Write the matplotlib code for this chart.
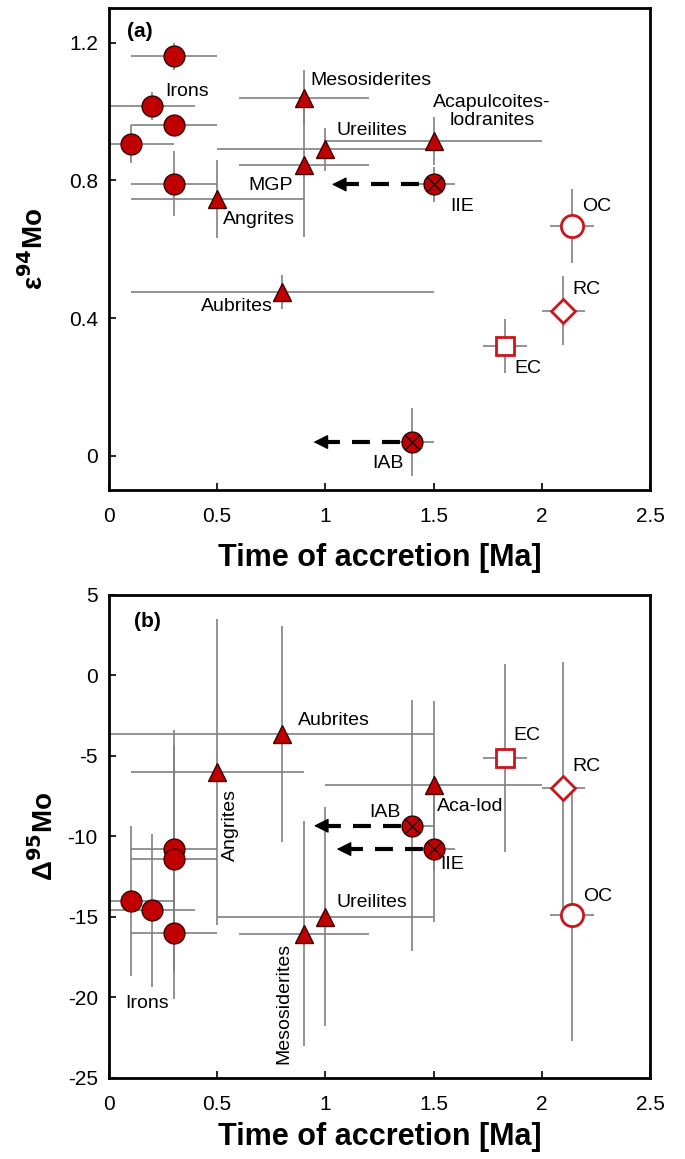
import matplotlib.pyplot as plt

plt.rcParams['font.family'] = ['Liberation Sans', 'DejaVu Sans']
plt.rcParams['axes.unicode_minus'] = False

RED = '#c00000'
OPEN = '#c8161d'
GREY = '#808080'

# ---- panel (a): epsilon 94Mo ----
irons_a_x = [0.3, 0.2, 0.3, 0.1, 0.3]
irons_a_y = [1.16, 1.015, 0.96, 0.905, 0.79]
irons_a_xerr = [0.2, 0.2, 0.2, 0.2, 0.2]
irons_a_yerr = [0.04, 0.04, 0.02, 0.055, 0.095]

achon_a_names = ['Mesosiderites', 'MGP', 'Ureilites', 'Acapulcoites-lodranites', 'Angrites', 'Aubrites']
achon_a_x = [0.9, 0.9, 1.0, 1.5, 0.5, 0.8]
achon_a_y = [1.04, 0.845, 0.89, 0.915, 0.745, 0.475]
achon_a_xerr = [0.3, 0.3, 0.5, 0.5, 0.4, 0.7]
achon_a_yerr = [0.08, 0.21, 0.063, 0.07, 0.113, 0.05]

cross_a_names = ['IIE', 'IAB']
cross_a_x = [1.5, 1.4]
cross_a_y = [0.788, 0.04]
cross_a_xerr = [0.1, 0.1]
cross_a_yerr = [0.05, 0.1]
cross_a_shift = [1.03, 0.945]   # arrow tips

chon_names = ['OC', 'RC', 'EC']
chon_markers = ['o', 'D', 's']
chon_a_x = [2.14, 2.1, 1.83]
chon_a_y = [0.668, 0.421, 0.318]
chon_a_xerr = [0.1, 0.1, 0.1]
chon_a_yerr = [0.107, 0.1, 0.078]

# ---- panel (b): Delta 95Mo ----
irons_b_x = [0.3, 0.3, 0.1, 0.2, 0.3]
irons_b_y = [-10.8, -11.4, -14.0, -14.6, -16.0]
irons_b_xerr = [0.2, 0.2, 0.2, 0.2, 0.2]
irons_b_yerr = [7.4, 7.0, 4.65, 4.75, 4.1]

achon_b_names = ['Aubrites', 'Angrites', 'Aca-lod', 'Ureilites', 'Mesosiderites']
achon_b_x = [0.8, 0.5, 1.5, 1.0, 0.9]
achon_b_y = [-3.63, -6.0, -6.85, -15.0, -16.05]
achon_b_xerr_lo = [0.8, 0.4, 0.5, 0.5, 0.3]
achon_b_xerr_hi = [0.7, 0.4, 0.5, 0.5, 0.3]
achon_b_yerr = [6.7, 9.5, 5.25, 6.8, 7.0]

cross_b_names = ['IAB', 'IIE']
cross_b_x = [1.4, 1.5]
cross_b_y = [-9.35, -10.8]
cross_b_xerr = [0.1, 0.1]
cross_b_yerr = [7.8, 4.5]
cross_b_shift = [0.947, 1.052]

chon_b_x = [2.14, 2.1, 1.83]
chon_b_y = [-14.9, -7.0, -5.15]
chon_b_xerr = [0.1, 0.1, 0.1]
chon_b_yerr = [7.8, 7.8, 5.85]


def draw_panel(ax, ix, iy, ixe, iye, tx, ty, txe, tye, cx, cy, cxe, cye, shift, ox, oy, oxe, oye):
    for x, y, xe, ye in [(ix, iy, ixe, iye), (tx, ty, txe, tye), (cx, cy, cxe, cye), (ox, oy, oxe, oye)]:
        ax.errorbar(x, y, xerr=xe, yerr=ye, fmt='none', ecolor=GREY, elinewidth=1.2, zorder=1)

    # dashed shift arrows (dash pattern starts next to the head)
    for x0, y0, x1 in zip(cx, cy, shift):
        ax.plot([x1 + 0.04, x0], [y0, y0], color='k', lw=3.0, ls=(0, (4.3, 2.9)),
                solid_capstyle='butt', dash_capstyle='butt', zorder=2)
        ax.annotate('', xy=(x1, y0), xytext=(x1 + 0.06, y0),
                    arrowprops=dict(arrowstyle='-|>,head_length=0.9,head_width=0.45',
                                    color='k', lw=1.0, mutation_scale=10, shrinkA=0, shrinkB=0),
                    zorder=2)

    ax.plot(ix, iy, 'o', ms=15, mfc=RED, mec='#3a0000', mew=1.0, ls='none', zorder=3)
    ax.plot(tx, ty, '^', ms=13, mfc=RED, mec='#3a0000', mew=1.0, ls='none', zorder=3)
    ax.plot(cx, cy, 'o', ms=15, mfc=RED, mec='#3a0000', mew=1.0, ls='none', zorder=3)
    ax.plot(cx, cy, 'x', ms=10, mec='k', mew=0.9, ls='none', zorder=4)
    for xx, yy, m in zip(ox, oy, chon_markers):
        size = {'o': 16, 'D': 12, 's': 13}[m]
        ax.plot(xx, yy, m, ms=size, mfc='white', mec=OPEN, mew=2.0, zorder=3)

    ax.set_xlim(0, 2.5)
    ax.set_xticks([0, 0.5, 1, 1.5, 2, 2.5])
    ax.set_xticklabels(['0', '0.5', '1', '1.5', '2', '2.5'])
    ax.tick_params(direction='in', length=5, width=1.2, labelsize=15)
    ax.tick_params(axis='x', pad=12)
    ax.tick_params(axis='y', pad=8)
    for s in ax.spines.values():
        s.set_linewidth(2.0)


fig = plt.figure(figsize=(6.85, 11.59), dpi=100)
ax1 = fig.add_axes([0.159, 0.577, 0.790, 0.416])
ax2 = fig.add_axes([0.159, 0.070, 0.790, 0.417])

draw_panel(ax1, irons_a_x, irons_a_y, irons_a_xerr, irons_a_yerr,
           achon_a_x, achon_a_y, achon_a_xerr, achon_a_yerr,
           cross_a_x, cross_a_y, cross_a_xerr, cross_a_yerr, cross_a_shift,
           chon_a_x, chon_a_y, chon_a_xerr, chon_a_yerr)
ax1.set_ylim(-0.1, 1.3)
ax1.set_yticks([0, 0.4, 0.8, 1.2])
ax1.set_yticklabels(['0', '0.4', '0.8', '1.2'])
ax1.set_ylabel(r'ε$^{\mathbf{94}}$Mo', fontsize=20, fontweight='bold', labelpad=14)
ax1.set_xlabel('Time of accretion [Ma]', fontsize=22, fontweight='bold', labelpad=12)

lab = dict(fontsize=14)
ax1.text(0.082, 1.233, '(a)', fontsize=15, fontweight='bold', va='center')
ax1.text(0.26, 1.059, 'Irons', va='center', **lab)
ax1.text(0.933, 1.09, 'Mesosiderites', va='center', **lab)
ax1.text(1.05, 0.946, 'Ureilites', va='center', **lab)
ax1.text(1.77, 1.0, 'Acapulcoites-\nlodranites', va='center', ha='center', linespacing=1.05, **lab)
ax1.text(0.852, 0.785, 'MGP', va='center', ha='right', **lab)
ax1.text(0.528, 0.687, 'Angrites', va='center', **lab)
ax1.text(1.579, 0.725, 'IIE', va='center', **lab)
ax1.text(2.184, 0.725, 'OC', va='center', **lab)
ax1.text(2.142, 0.482, 'RC', va='center', **lab)
ax1.text(1.875, 0.254, 'EC', va='center', **lab)
ax1.text(0.757, 0.433, 'Aubrites', va='center', ha='right', **lab)
ax1.text(1.362, -0.023, 'IAB', va='center', ha='right', **lab)

draw_panel(ax2, irons_b_x, irons_b_y, irons_b_xerr, irons_b_yerr,
           achon_b_x, achon_b_y, [achon_b_xerr_lo, achon_b_xerr_hi], achon_b_yerr,
           cross_b_x, cross_b_y, cross_b_xerr, cross_b_yerr, cross_b_shift,
           chon_b_x, chon_b_y, chon_b_xerr, chon_b_yerr)
ax2.set_ylim(-25, 5)
ax2.set_yticks([5, 0, -5, -10, -15, -20, -25])
ax2.set_ylabel(r'Δ$^{\mathbf{95}}$Mo', fontsize=20, fontweight='bold', labelpad=6)
ax2.set_xlabel('Time of accretion [Ma]', fontsize=22, fontweight='bold', labelpad=6)

ax2.text(0.118, 3.35, '(b)', fontsize=15, fontweight='bold', va='center')
ax2.text(0.873, -2.8, 'Aubrites', va='center', **lab)
ax2.text(0.563, -9.3, 'Angrites', va='center', ha='center', rotation=90, **lab)
ax2.text(1.347, -8.54, 'IAB', va='center', ha='right', **lab)
ax2.text(1.515, -8.17, 'Aca-lod', va='center', **lab)
ax2.text(1.531, -11.75, 'IIE', va='center', **lab)
ax2.text(1.869, -3.73, 'EC', va='center', **lab)
ax2.text(2.14, -5.7, 'RC', va='center', **lab)
ax2.text(2.19, -13.73, 'OC', va='center', **lab)
ax2.text(1.05, -14.1, 'Ureilites', va='center', **lab)
ax2.text(0.809, -20.4, 'Mesosiderites', va='center', ha='center', rotation=90, **lab)
ax2.text(0.076, -20.4, 'Irons', va='center', **lab)

fig.savefig('out.png', dpi=100)
